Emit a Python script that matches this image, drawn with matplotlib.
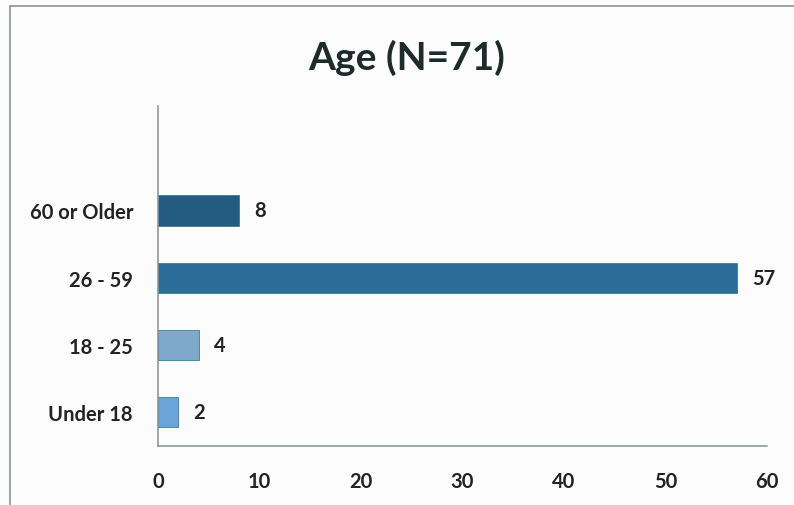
import matplotlib.pyplot as plt
from matplotlib.patches import Rectangle

# Data
categories = ['Under 18', '18 - 25', '26 - 59', '60 or Older']
counts = [2, 4, 57, 8]
bar_colors = ['#6aa4d8', '#7fa8cd', '#2c6c99', '#245b80']
x_ticks = [0, 10, 20, 30, 40, 50, 60]

plt.rcParams['font.family'] = ['Lato', 'DejaVu Sans']

fig = plt.figure(figsize=(7.94, 5.06), dpi=100)
fig.patch.set_facecolor('#fcfcfd')

# outer chart frame (only top and left edges visible in the scan)
frame = Rectangle((10 / 794, -0.1), 1.2, 1 - 7 / 506 + 0.1, transform=fig.transFigure,
                  fill=False, edgecolor='#8c9590', linewidth=1.2)
fig.patches.append(frame)

ax = fig.add_axes([158 / 794, 1 - 447 / 506, (767 - 158) / 794, (447 - 107) / 506])
ax.set_facecolor('none')

ypos = range(len(categories))
ax.barh(ypos, counts, height=0.45, color=bar_colors, edgecolor='#3d7f8a', linewidth=0.6)

for y, v in zip(ypos, counts):
    ax.annotate(str(v), (v, y), xytext=(11, 0), textcoords='offset points',
                va='center', ha='left', fontsize=14.5, fontweight='bold', color='#222222')

ax.set_xlim(0, 60)
ax.set_ylim(-0.5, 4.55)
ax.set_xticks(x_ticks)
ax.set_yticks(list(ypos))
ax.set_yticklabels(categories)
ax.tick_params(axis='both', length=0, labelsize=14.5, labelcolor='#222222')
ax.tick_params(axis='x', pad=18)
ax.tick_params(axis='y', pad=18)
for lbl in ax.get_xticklabels() + ax.get_yticklabels():
    lbl.set_fontweight('bold')

for s in ['top', 'right']:
    ax.spines[s].set_visible(False)
ax.spines['left'].set_color('#8a8f95')
ax.spines['bottom'].set_color('#7d9a85')
ax.spines['left'].set_linewidth(1.1)
ax.spines['bottom'].set_linewidth(1.1)

fig.text(407 / 794, 1 - 58 / 506, 'Age (N=71)', ha='center', va='center',
         fontsize=28, fontweight='bold', color='#1f2a2a')

plt.savefig('out.png', dpi=100, facecolor=fig.get_facecolor())
